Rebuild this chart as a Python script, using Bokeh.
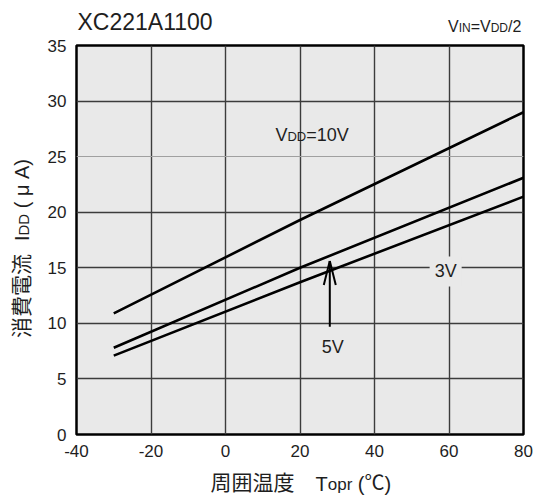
import math

from bokeh.embed import file_html
from bokeh.layouts import column, row
from bokeh.models import FixedTicker, Grid, Label, Range1d
from bokeh.plotting import figure
from bokeh.resources import INLINE

# Supply current IDD (uA) against operating temperature Topr (degC)
temp = [-30, 20, 80]
idd_10v = [10.9, 19.3, 29.0]
idd_5v = [7.8, 15.0, 23.1]
idd_3v = [7.1, 13.7, 21.4]

x_ticks = [-40, -20, 0, 20, 40, 60, 80]
y_ticks = [0, 5, 10, 15, 20, 25, 30, 35]
x_tick_text = {-40: "-40", -20: "-20"}
x_grid = [-20, 0, 20, 40, 60]
y_grid_dark = [5, 10, 15, 20, 30]
y_grid_light = [25]

# pointer for the 5V curve
arrow_x = 28
arrow_from = 9.7
arrow_to = 15.6

LATIN = "Liberation Sans"
CJK = "Noto Sans CJK JP"
INK = "#1e1e1e"
PANEL = "#e9e9e9"

# page geometry (px)
PAGE_W, PAGE_H = 539, 497
HEAD_H, FOOT_H, YLAB_W = 35, 32, 40
BORDER_L, BORDER_R, BORDER_T, BORDER_B = 36, 16, 10, 31
MAIN_W = PAGE_W - YLAB_W
MAIN_H = PAGE_H - HEAD_H - FOOT_H
FRAME_W = MAIN_W - BORDER_L - BORDER_R
FRAME_H = MAIN_H - BORDER_T - BORDER_B

# "alphabetic" labels are centred on the font box; distance (em) from that centre to the baseline
BASE_SHIFT = {LATIN: 0.35, CJK: 0.43}
# extra placement correction for text turned through 90 degrees (px)
ROT_ALONG, ROT_ACROSS = -23, -2.5

# Arial / Liberation Sans advance widths (em) for the glyphs used in labels
ADV = {
    "V": 0.667, "D": 0.722, "I": 0.278, "N": 0.722, "=": 0.584, "/": 0.278,
    "0": 0.556, "1": 0.556, "2": 0.556, "3": 0.556, "5": 0.556,
    "T": 0.611, "o": 0.556, "p": 0.556, "r": 0.333, "(": 0.333, ")": 0.333,
    " ": 0.278, "\u03bc": 0.576, "A": 0.667, "C": 0.722,
}


def run_width(text, size, font):
    if font == CJK:
        return len(text) * size
    return sum(ADV.get(c, 0.556) for c in text) * size


def text_label(x, y, text, size, font=LATIN, align="left", angle=0.0, along=0.0, **kw):
    """Label whose (x, y) is the baseline origin; `along` advances in reading direction."""
    shift = BASE_SHIFT[font] * size
    if angle == 0.0:
        dx, dy = along, shift
    else:
        dx, dy = -shift + ROT_ACROSS, along + ROT_ALONG
    return Label(x=x, y=y, text=text, angle=angle, x_offset=dx, y_offset=dy,
                 text_font=font, text_font_size=f"{size}px",
                 text_align=align, text_baseline="alphabetic", **kw)


def add_runs(p, runs, x, y, angle=0.0, bg=None, pad=0):
    """Lay out mixed-size text pieces along one baseline; a bare number is a gap in px."""
    placed = []
    off = 0.0
    for item in runs:
        if isinstance(item, (int, float)):
            off += item
            continue
        text, size, font = item
        shown = text.strip(" ")
        lead = (len(text) - len(text.lstrip(" "))) * ADV[" "] * size
        placed.append((shown, size, font, off + lead))
        off += run_width(text, size, font)

    if bg is not None:
        for t, s, f, o in placed:
            p.add_layout(text_label(x, y, t, s, f, angle=angle, along=o, text_alpha=0.0,
                                    background_fill_color=bg, background_fill_alpha=1.0,
                                    padding=pad), "center")
    for t, s, f, o in placed:
        p.add_layout(text_label(x, y, t, s, f, angle=angle, along=o, text_color=INK),
                     "center")


def text_strip(w, h):
    """A plain canvas whose data units are pixels, for text around the chart."""
    f = figure(width=w, height=h, x_range=Range1d(0, w), y_range=Range1d(0, h),
               x_axis_location=None, y_axis_location=None,
               output_backend="svg", toolbar_location=None, min_border=0)
    f.outline_line_color = None
    f.grid.visible = False
    return f


# ---- main chart ----
p = figure(
    width=MAIN_W, height=MAIN_H,
    x_range=Range1d(-40, 80), y_range=Range1d(0, 35),
    output_backend="svg", toolbar_location=None,
    min_border_left=BORDER_L, min_border_right=BORDER_R,
    min_border_top=BORDER_T, min_border_bottom=BORDER_B,
    background_fill_color=PANEL, border_fill_color="white",
)
p.outline_line_color = "black"
p.outline_line_width = 2.5

p.xgrid.visible = False
p.ygrid.visible = False
p.add_layout(Grid(dimension=0, ticker=FixedTicker(ticks=x_grid),
                  grid_line_color="#3c3c3c", grid_line_width=1.4))
p.add_layout(Grid(dimension=1, ticker=FixedTicker(ticks=y_grid_dark),
                  grid_line_color="#3c3c3c", grid_line_width=1.4))
p.add_layout(Grid(dimension=1, ticker=FixedTicker(ticks=y_grid_light),
                  grid_line_color="#a0a0a0", grid_line_width=1.0))

for ax, ticks in ((p.xaxis, x_ticks), (p.yaxis, y_ticks)):
    ax.ticker = FixedTicker(ticks=ticks)
    ax.axis_line_color = None
    ax.major_tick_line_color = None
    ax.minor_tick_line_color = None
    ax.major_tick_out = 0
    ax.major_tick_in = 0
    ax.major_label_text_font = LATIN
    ax.major_label_text_font_size = "17px"
    ax.major_label_text_color = INK
p.xaxis.major_label_overrides = x_tick_text
p.xaxis.major_label_standoff = 10
p.yaxis.major_label_standoff = 10

for series in (idd_10v, idd_5v, idd_3v):
    p.line(temp, series, line_color="black", line_width=2.6)

# curve labels
add_runs(p, [("V", 18, LATIN), ("DD", 13, LATIN), ("=10V", 18, LATIN)],
         13.4, 26.4, bg=PANEL, pad=3)
p.add_layout(text_label(59.1, 14.1, "3V", 18, align="center", text_color=INK,
                        background_fill_color=PANEL, background_fill_alpha=1.0,
                        padding=5), "center")
p.add_layout(text_label(arrow_x, 7.3, "5V", 18, align="center", along=3,
                        text_color=INK), "center")

# arrow: shaft plus a narrow open head (head size given in px)
head_len_px, head_half_px = 24, 6
px_x = FRAME_W / (80 - -40)
px_y = FRAME_H / 35.0
p.segment(x0=[arrow_x], y0=[arrow_from], x1=[arrow_x], y1=[arrow_to],
          line_color="black", line_width=2)
p.segment(x0=[arrow_x, arrow_x], y0=[arrow_to, arrow_to],
          x1=[arrow_x - head_half_px / px_x, arrow_x + head_half_px / px_x],
          y1=[arrow_to - head_len_px / px_y, arrow_to - head_len_px / px_y],
          line_color="black", line_width=2)

# ---- header: model name and bias condition ----
head = text_strip(PAGE_W, HEAD_H)
head.add_layout(text_label(77, HEAD_H - 30, "XC221A1100", 23, text_color=INK), "center")
add_runs(head, [("V", 16, LATIN), ("IN", 12, LATIN), ("=V", 16, LATIN),
                ("DD", 12, LATIN), ("/2", 16, LATIN)], 447.5, HEAD_H - 31.5)

# ---- y axis title ----
ylab = text_strip(YLAB_W, MAIN_H)
add_runs(ylab, [("消費電流", 21, CJK), 13, ("I", 20, LATIN), ("DD", 15, LATIN),
                (" ( \u03bc A)", 20, LATIN)], 31, MAIN_H - (333 - HEAD_H),
         angle=math.pi / 2)

# ---- x axis title ----
foot = text_strip(PAGE_W, FOOT_H)
add_runs(foot, [("周囲温度\u3000", 21, CJK), ("T", 20, LATIN), ("opr", 17, LATIN),
                (" (", 20, LATIN), ("\u2103", 20, CJK), (")", 20, LATIN)],
         210, PAGE_H - 490)

page = column(head, row(ylab, p, spacing=0), foot, spacing=0)

open("out.html", "w").write(file_html(page, INLINE))
